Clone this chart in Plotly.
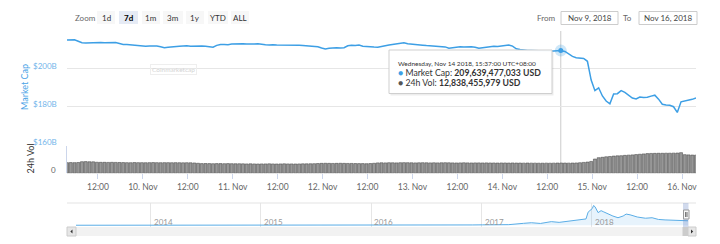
import pandas as pd
import plotly.graph_objects as go

W, H = 720, 244

# ---------------- data ----------------
start_time = "2018-11-09 03:44"
n_points = 169  # hourly samples
times = pd.date_range(start_time, periods=n_points, freq="h")

mcap_b = [215.2, 215.2, 215.4, 214.6, 213.8, 213.7, 213.8, 213.6, 213.8, 213.9,
          213.8, 213.9, 214.0, 213.9, 213.4, 212.9, 212.9, 212.7, 212.4, 212.1,
          212.0, 211.9, 212.1, 212.2, 212.1, 211.7, 211.2, 211.4, 211.7, 211.9,
          212.0, 212.1, 212.2, 211.9, 212.0, 212.1, 212.1, 211.9, 211.6, 211.4,
          212.4, 212.9, 212.9, 212.8, 213.1, 213.3, 213.5, 213.3, 213.1, 213.0,
          213.1, 213.3, 212.9, 212.7, 212.6, 212.8, 212.6, 212.6, 212.7, 212.8,
          212.6, 212.6, 212.5, 212.4, 212.2, 212.2, 212.1, 211.7, 211.0, 210.5,
          210.9, 211.2, 211.1, 211.0, 211.2, 212.2, 212.5, 212.3, 212.6, 212.0,
          211.7, 211.8, 211.5, 211.4, 211.6, 212.2, 212.6, 212.8, 213.0, 213.4,
          213.8, 213.3, 213.0, 212.9, 212.6, 212.5, 212.3, 212.2, 212.3, 212.2,
          212.0, 211.6, 210.9, 211.1, 211.4, 211.7, 211.5, 211.8, 211.7, 211.4,
          210.9, 211.2, 211.5, 211.7, 211.9, 211.8, 212.0, 212.4, 212.6, 212.0,
          210.6, 210.2, 209.9, 209.7, 209.7, 209.8, 209.6, 209.6, 209.5, 209.4,
          209.4, 209.6, 209.6, 209.2, 208.0, 206.6, 205.9, 205.6, 205.5, 204.0,
          194.1, 188.5, 190.0, 185.7, 183.0, 181.5, 186.7, 186.9, 188.5, 187.6,
          185.9, 184.6, 184.1, 185.1, 184.9, 185.0, 185.6, 186.1, 184.0, 181.3,
          180.9, 180.8, 180.0, 177.0, 182.6, 183.0, 183.2, 183.9, 184.6]

vol_b = [13.3, 13.4, 13.3, 13.5,
         14.5, 14.6, 14.4, 14.3,
         13.8, 13.7, 13.7, 13.6, 13.7, 13.6, 13.5, 13.4,
         13.3, 13.2, 13.4, 13.3, 13.3, 13.2, 13.3, 13.4, 13.3, 13.2,
         13.3, 13.3, 13.2, 13.3, 13.2, 13.1, 13.2, 13.1, 12.9, 12.5,
         12.1, 12.2, 12.1, 12.0, 12.1, 12.1, 12.0, 12.1, 12.0, 11.9, 11.9, 11.8,
         11.7, 11.8, 11.7, 11.6, 11.7, 11.7, 11.8, 11.7, 11.6, 11.7,
         11.8, 11.7, 11.7, 11.6, 11.7, 11.8, 11.8, 11.9, 12.0, 12.2,
         12.4, 12.5, 12.4, 12.3, 12.4, 12.5, 12.4, 12.3, 12.3, 12.2, 12.1,
         12.1, 12.0, 12.2, 12.5,
         13.0, 13.1, 13.0, 13.2, 13.1, 13.0, 13.2, 13.3, 13.2, 13.1,
         13.0, 13.1, 13.2, 13.1, 13.0, 13.1, 13.0, 13.1, 13.2, 13.1,
         13.0, 12.9, 13.0, 13.1, 13.0, 12.9, 13.0, 13.0, 12.9, 13.0, 12.9,
         12.9, 12.8, 12.9, 12.9, 12.8, 12.9, 12.8, 12.8, 12.7, 12.8, 12.7, 12.7,
         12.6, 12.6, 12.7, 12.6, 12.7, 12.8, 12.84, 12.8, 12.7, 12.8, 12.9, 13.2, 13.6, 14.0,
         14.8, 17.8, 19.5, 20.0, 20.6, 21.0, 21.5, 21.8, 22.0, 22.4,
         22.7, 23.0, 23.4, 23.8, 24.2, 24.6, 24.8, 24.9, 25.0, 25.0,
         25.1, 25.1, 25.2, 25.3, 25.8, 23.3, 23.0, 22.8, 22.7]

tick_vals = ["2018-11-09 12:00", "2018-11-10 00:00", "2018-11-10 12:00", "2018-11-11 00:00",
             "2018-11-11 12:00", "2018-11-12 00:00", "2018-11-12 12:00", "2018-11-13 00:00",
             "2018-11-13 12:00", "2018-11-14 00:00", "2018-11-14 12:00", "2018-11-15 00:00",
             "2018-11-15 12:00", "2018-11-16 00:00"]
tick_text = ["12:00", "10. Nov", "12:00", "11. Nov", "12:00", "12. Nov", "12:00", "13. Nov",
             "12:00", "14. Nov", "12:00", "15. Nov", "12:00", "16. Nov"]

y_ticks_b = [160, 180, 200]
y_tick_text = ["$160B", "$180B", "$200B"]

nav_dates = ["2013-04-28", "2013-07-01", "2013-10-01", "2013-11-10", "2013-12-04", "2013-12-20",
             "2014-01-06", "2014-02-25", "2014-04-01", "2014-06-01", "2014-09-01", "2014-12-01",
             "2015-01-15", "2015-06-01", "2015-11-05", "2016-01-01", "2016-03-01", "2016-06-18",
             "2016-09-01", "2016-12-01", "2017-01-04", "2017-03-01", "2017-04-01", "2017-05-20",
             "2017-06-15", "2017-07-15", "2017-08-20", "2017-09-15", "2017-10-15", "2017-11-15",
             "2017-12-01", "2017-12-13", "2017-12-20", "2017-12-27", "2018-01-03", "2018-01-07",
             "2018-01-12", "2018-01-22", "2018-02-01", "2018-02-08", "2018-02-24", "2018-03-12",
             "2018-03-29", "2018-04-15", "2018-04-25", "2018-05-08", "2018-06-01", "2018-06-28",
             "2018-07-20", "2018-08-10", "2018-09-01", "2018-09-20", "2018-10-15", "2018-11-06",
             "2018-11-14", "2018-11-16"]
nav_b = [1.6, 1.0, 1.6, 4, 15, 8.5,
         11, 7, 6.5, 8.5, 6.5, 5.5,
         3.3, 3.6, 6.5, 7, 8, 13,
         11.5, 14.5, 18, 22, 26, 80,
         105, 75, 150, 120, 160, 200,
         230, 260, 540, 600, 690, 810,
         760, 520, 600, 560, 460, 380,
         310, 380, 460, 430, 340, 290,
         310, 240, 220, 215, 210, 215,
         209, 185]
nav_years = ["2014", "2015", "2016", "2017", "2018"]

tip_time = "2018-11-14 15:37"
tip_label = "Wednesday, Nov 14 2018, 15:37:00 UTC+08:00"
tip_mcap = 209639477033
tip_vol = 12838455979

range_buttons = ["1d", "7d", "1m", "3m", "1y", "YTD", "ALL"]
selected_button = "7d"
from_date = "Nov 9, 2018"
to_date = "Nov 16, 2018"

# ---------------- styling helpers ----------------
FONT = "Lato, 'Open Sans', sans-serif"
LINE_BLUE = "#3d9fe5"
LABEL_BLUE = "#72b5ea"


def px(x):
    return x / W


def py(y):
    return 1 - y / H


def text(x, y, t, size=8, color="#333", xanchor="center", yanchor="middle", **kw):
    d = dict(xref="paper", yref="paper", x=x, y=y, text=t, showarrow=False,
             xanchor=xanchor, yanchor=yanchor, font=dict(family=FONT, size=size, color=color))
    d.update(kw)
    return d


fig = go.Figure()

fig.add_trace(go.Scatter(x=times, y=mcap_b, mode="lines", xaxis="x", yaxis="y",
                         line=dict(color=LINE_BLUE, width=1.5), hoverinfo="skip"))
fig.add_trace(go.Bar(x=times, y=vol_b, xaxis="x", yaxis="y2",
                     marker=dict(color="#979797", line=dict(color="#4f4f4f", width=0.6)),
                     hoverinfo="skip"))
# tooltip point + halo
fig.add_trace(go.Scatter(x=[tip_time], y=[tip_mcap / 1e9], mode="markers", xaxis="x", yaxis="y",
                         marker=dict(size=12, color="rgba(61,159,229,0.25)"), hoverinfo="skip"))
fig.add_trace(go.Scatter(x=[tip_time], y=[tip_mcap / 1e9], mode="markers", xaxis="x", yaxis="y",
                         marker=dict(size=5, color=LINE_BLUE), hoverinfo="skip"))
# navigator
fig.add_trace(go.Scatter(x=nav_dates, y=nav_b, mode="lines", xaxis="x3", yaxis="y3",
                         fill="tozeroy", fillcolor="rgba(61,159,229,0.12)",
                         line=dict(color="#5aade6", width=1), hoverinfo="skip"))

shapes = []
annotations = []

# crosshair
shapes.append(dict(type="line", xref="x", yref="paper", x0=tip_time, x1=tip_time,
                   y0=py(173.3), y1=py(31), line=dict(color="#cccccc", width=1), layer="below"))

# tooltip box with shadow
shapes.append(dict(type="rect", xref="paper", yref="paper", x0=px(390.5), x1=px(553.5),
                   y0=py(95.5), y1=py(51.5), fillcolor="rgba(0,0,0,0.07)", line=dict(width=0),
                   layer="above"))
shapes.append(dict(type="rect", xref="paper", yref="paper", x0=px(389), x1=px(552),
                   y0=py(93.5), y1=py(50), fillcolor="rgba(255,255,255,0.96)",
                   line=dict(color="#cfcfcf", width=1), layer="above"))
annotations.append(text(px(396), py(63.5), tip_label, size=6.5, xanchor="left"))
annotations.append(text(px(396), py(72.8),
                        f"<span style='color:{LINE_BLUE}'>●</span> Market Cap: <b>{tip_mcap:,} USD</b>",
                        size=8.7, xanchor="left"))
annotations.append(text(px(396), py(82.3),
                        f"<span style='color:#555'>●</span> 24h Vol: <b>{tip_vol:,} USD</b>",
                        size=8.7, xanchor="left"))

# y labels for the market cap pane (drawn above their grid lines)
for v, t in zip(y_ticks_b, y_tick_text):
    annotations.append(dict(xref="paper", yref="y", x=px(59), y=v, xanchor="right",
                            yanchor="middle", yshift=3, showarrow=False, text=t,
                            font=dict(family=FONT, size=8, color=LABEL_BLUE)))
annotations.append(text(px(58), py(170), "0", size=8, color="#666", xanchor="right"))
annotations.append(text(px(24), py(87), "Market Cap", size=9, color="#4aa3e6", textangle=-90))
annotations.append(text(px(30), py(158.5), "24h Vol", size=9, color="#333", textangle=-90))

# watermark
annotations.append(text(px(173.5), py(69.5), "Coinmarketcap", size=6.5, color="#d4d4d4",
                        bordercolor="#eeeeee", borderwidth=1, borderpad=1))

# range selector buttons
annotations.append(text(px(73), py(17.5), "Zoom", size=8, color="#666", xanchor="left"))
btn_x = [(97, 115), (119, 138), (142, 160), (163, 183), (186, 204), (208, 228), (231, 249)]
for (x0, x1), lab in zip(btn_x, range_buttons):
    sel = lab == selected_button
    shapes.append(dict(type="rect", xref="paper", yref="paper", x0=px(x0), x1=px(x1),
                       y0=py(24), y1=py(11), fillcolor="#e6ebf5" if sel else "#f7f7f7",
                       line=dict(width=0), layer="above"))
    annotations.append(text(px((x0 + x1) / 2), py(17.5), f"<b>{lab}</b>" if sel else lab,
                            size=8, color="#000" if sel else "#333"))

# From / To inputs
annotations.append(text(px(557), py(17.5), "From", size=8, color="#666", xanchor="right"))
annotations.append(text(px(634), py(17.5), "To", size=8, color="#666", xanchor="right"))
for (x0, x1), lab in zip([(561, 618), (639, 697)], [from_date, to_date]):
    shapes.append(dict(type="rect", xref="paper", yref="paper", x0=px(x0), x1=px(x1),
                       y0=py(24.5), y1=py(11.5), fillcolor="white",
                       line=dict(color="#cccccc", width=1), layer="above"))
    annotations.append(text(px((x0 + x1) / 2), py(18), lab, size=8, color="#444"))

# navigator frame
shapes.append(dict(type="line", xref="paper", yref="paper", x0=px(67), x1=px(696),
                   y0=py(203), y1=py(203), line=dict(color="#e3e3e3", width=1)))
for yr in nav_years:
    annotations.append(dict(xref="x3", yref="paper", x=f"{yr}-01-01", y=py(221.5),
                            xanchor="left", xshift=1, yanchor="middle", showarrow=False,
                            text=yr, font=dict(family=FONT, size=8, color="#999")))
# mask & handle
shapes.append(dict(type="rect", xref="paper", yref="paper", x0=px(683), x1=px(688.5),
                   y0=py(227), y1=py(203), fillcolor="rgba(102,133,194,0.3)",
                   line=dict(width=0), layer="above"))
shapes.append(dict(type="rect", xref="paper", yref="paper", x0=px(683.5), x1=px(689),
                   y0=py(219), y1=py(210), fillcolor="#f7f7f7",
                   line=dict(color="#999", width=1), layer="above"))
for xx in (685.6, 687.0):
    shapes.append(dict(type="line", xref="paper", yref="paper", x0=px(xx), x1=px(xx),
                       y0=py(217), y1=py(212), line=dict(color="#333", width=0.7), layer="above"))

# scrollbar
shapes.append(dict(type="rect", xref="paper", yref="paper", x0=px(67), x1=px(696),
                   y0=py(236), y1=py(227), fillcolor="#f2f2f2", line=dict(width=0)))
shapes.append(dict(type="rect", xref="paper", yref="paper", x0=px(67), x1=px(76),
                   y0=py(236), y1=py(227), fillcolor="#e6e6e6",
                   line=dict(color="#cccccc", width=1)))
shapes.append(dict(type="rect", xref="paper", yref="paper", x0=px(682.5), x1=px(688),
                   y0=py(236), y1=py(227), fillcolor="#cccccc", line=dict(width=0)))
shapes.append(dict(type="rect", xref="paper", yref="paper", x0=px(688), x1=px(696),
                   y0=py(236), y1=py(227), fillcolor="#e6e6e6",
                   line=dict(color="#cccccc", width=1)))
shapes.append(dict(type="path", xref="paper", yref="paper",
                   path=f"M {px(72.5)} {py(229.5)} L {px(72.5)} {py(233.5)} L {px(70.3)} {py(231.5)} Z",
                   fillcolor="#333", line=dict(width=0)))
shapes.append(dict(type="path", xref="paper", yref="paper",
                   path=f"M {px(691)} {py(229.5)} L {px(691)} {py(233.5)} L {px(693.2)} {py(231.5)} Z",
                   fillcolor="#333", line=dict(width=0)))

fig.update_layout(
    width=W, height=H, margin=dict(l=0, r=0, t=0, b=0),
    paper_bgcolor="white", plot_bgcolor="white", showlegend=False,
    bargap=0.2, font=dict(family=FONT),
    xaxis=dict(domain=[px(67), px(696)], range=["2018-11-09 03:44", "2018-11-16 03:44"],
               anchor="y2", showgrid=False, zeroline=False, showline=False,
               tickmode="array", tickvals=tick_vals, ticktext=tick_text,
               ticks="outside", ticklen=5, tickcolor="#ccd6eb",
               tickfont=dict(family=FONT, size=8.5, color="#666")),
    yaxis=dict(domain=[py(144.6), py(31)], range=[160, 220], anchor="x",
               showgrid=True, gridcolor="#e6e6e6", gridwidth=1,
               tickmode="array", tickvals=[160, 180, 200, 220], showticklabels=False,
               zeroline=False, showline=False),
    yaxis2=dict(domain=[py(173.3), py(145.6)], range=[0, 34.6], anchor="x",
                showgrid=False, showticklabels=False, zeroline=False,
                showline=True, linecolor="#ccd6eb", linewidth=1),
    xaxis3=dict(domain=[px(76), px(688)], range=["2013-04-28", "2018-11-16"], anchor="y3",
                showgrid=True, gridcolor="#e6e6e6", tickmode="array",
                tickvals=[f"{y}-01-01" for y in nav_years], showticklabels=False,
                ticks="", zeroline=False),
    yaxis3=dict(domain=[py(226.5), py(203)], range=[-50, 915], anchor="x3",
                showgrid=False, showticklabels=False, zeroline=False),
    shapes=shapes, annotations=annotations,
)

fig.write_html("out.html", config={"displayModeBar": False})
